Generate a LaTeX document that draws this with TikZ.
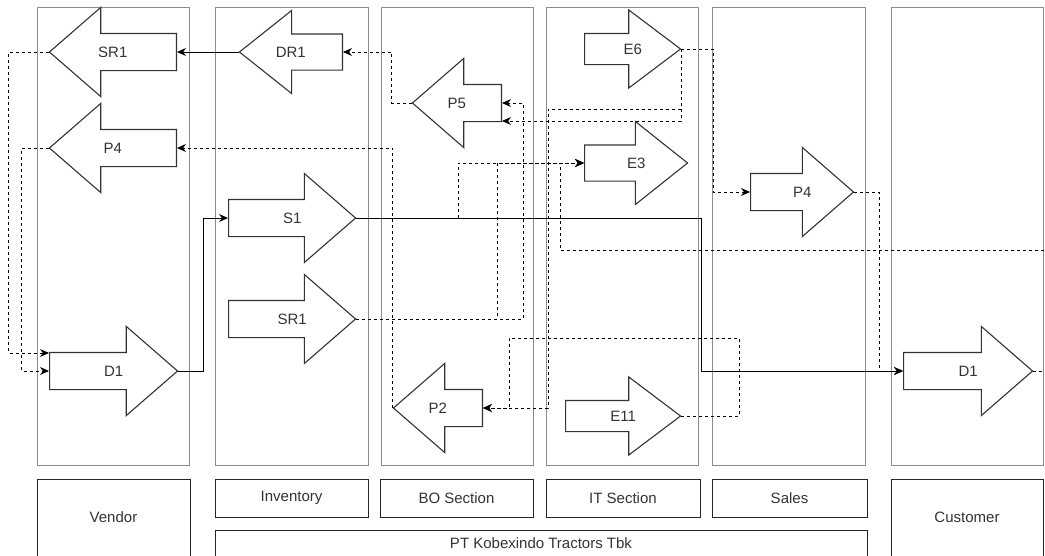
\documentclass[tikz,border=0pt]{standalone}
\usepackage{fontspec}
\setmainfont{Liberation Sans}
\usetikzlibrary{shapes.arrows, arrows.meta}

\tikzset{
  proc/.style={draw=black!80, line width=1.1pt, single arrow, single arrow head extend=26pt,
    minimum width=88pt, single arrow tip angle=82, inner xsep=0pt, inner ysep=12.5pt,
    text height=11pt, text depth=0pt, anchor=tail},
  procleft/.style={proc, shape border rotate=180},
  slim/.style={minimum width=77pt, inner ysep=9.5pt, single arrow head extend=23.5pt, single arrow tip angle=74},
  mid/.style={minimum width=82pt, inner ysep=12pt, single arrow head extend=23.5pt, single arrow tip angle=77},
  proctext/.style={font=\fontsize{15}{18}\selectfont, text=black!80, inner sep=0pt},
  lane/.style={draw=black!45, line width=0.8pt},
  lanelabel/.style={draw=black!85, line width=1pt, inner sep=0pt,
    font=\fontsize{15}{18}\selectfont, text=black!80},
  flow/.style={->, line width=1pt},
  msg/.style={->, line width=1pt, dash pattern=on 3pt off 3pt},
}

\begin{document}
\begin{tikzpicture}[x=1pt, y=-1pt, >={Stealth[length=9pt,width=8pt]}]
    \useasboundingbox (0,0) rectangle (1045,555);

        % Define the lanes
        \draw[lane] (37,7) rectangle (189,465);
        \draw[lane] (215,7) rectangle (368,465);
        \draw[lane] (381,7) rectangle (533,465);
        \draw[lane] (546,7) rectangle (698,465);
        \draw[lane] (712,7) rectangle (865,465);
        \draw[lane] (891,7) rectangle (1043,465);

        % Define the lane labels
        \node[lanelabel, minimum width=153pt, minimum height=77pt] (vendor) at (113.5,517.5) {Vendor};
        \node[lanelabel, minimum width=153pt, minimum height=38pt] (inventory) at (291.5,498) {Inventory};
        \node[lanelabel, minimum width=153pt, minimum height=38pt] (bo) at (456.5,498) {BO Section};
        \node[lanelabel, minimum width=154pt, minimum height=38pt] (it) at (623,498) {IT Section};
        \node[lanelabel, minimum width=155pt, minimum height=38pt] (sales) at (789.5,498) {Sales};
        \node[lanelabel, minimum width=152pt, minimum height=77pt] (customer) at (967,517.5) {Customer};
        \node[lanelabel, minimum width=652pt, minimum height=26pt] (company) at (541,543) {PT Kobexindo Tractors Tbk};

        % Define the process arrows (placed by their tail)
        \node[procleft, minimum height=127pt] (SR1v) at (177,52) {};
        \node[procleft, minimum height=127pt] (P4v) at (177,148) {};
        \node[proc, minimum height=128pt] (D1v) at (49,371) {};
        \node[procleft, mid, minimum height=103pt] (DR1) at (343,52) {};
        \node[proc, minimum height=127pt] (S1) at (228,218) {};
        \node[proc, minimum height=127pt] (SR1i) at (228,319) {};
        \node[procleft, minimum height=89pt] (P5) at (502,103) {};
        \node[procleft, minimum height=89pt] (P2) at (483,408) {};
        \node[proc, slim, minimum height=96pt] (E6) at (584,49) {};
        \node[proc, mid, minimum height=103pt] (E3) at (584,163) {};
        \node[proc, slim, minimum height=115pt] (E11) at (565,416) {};
        \node[proc, minimum height=103pt] (P4s) at (750,192) {};
        \node[proc, minimum height=129pt] (D1c) at (903,371) {};

        % Write the process names halfway along each arrow
        \path (SR1v.tail) -- (SR1v.tip) node[proctext, midway] (SR1vtext) {SR1};
        \path (P4v.tail) -- (P4v.tip) node[proctext, midway] (P4vtext) {P4};
        \path (D1v.tail) -- (D1v.tip) node[proctext, midway] (D1vtext) {D1};
        \path (DR1.tail) -- (DR1.tip) node[proctext, midway] (DR1text) {DR1};
        \path (S1.tail) -- (S1.tip) node[proctext, midway] (S1text) {S1};
        \path (SR1i.tail) -- (SR1i.tip) node[proctext, midway] (SR1itext) {SR1};
        \path (P5.tail) -- (P5.tip) node[proctext, midway] (P5text) {P5};
        \path (P2.tail) -- (P2.tip) node[proctext, midway] (P2text) {P2};
        \path (E6.tail) -- (E6.tip) node[proctext, midway] (E6text) {E6};
        \path (E3.tail) -- (E3.tip) node[proctext, midway] (E3text) {E3};
        \path (E11.tail) -- (E11.tip) node[proctext, midway] (E11text) {E11};
        \path (P4s.tail) -- (P4s.tip) node[proctext, midway] (P4stext) {P4};
        \path (D1c.tail) -- (D1c.tip) node[proctext, midway] (D1ctext) {D1};

        % Draw the material flow (solid)
        \draw[flow] (DR1.tip) -- (SR1v.tail);
        \draw[flow] (D1v.tip) -- ++(25,0) |- (S1.tail);
        \draw[flow] (S1.tip) -- ++(345,0) |- (D1c.tail);

        % Draw the information flow (dashed)
        \draw[msg] (P5.tip) -- ++(-20,0) |- (DR1.tail);
        \draw[msg] (P2.tip) |- (P4v.tail);
        \draw[msg] (SR1v.tip) -- ++(-40,0) |- ([yshift=18pt]D1v.tail);
        \draw[msg] (P4v.tip) -- ++(-27,0) |- (D1v.tail);
        \draw[msg] (S1.tip) -- ++(102,0) |- (E3.tail);
        \draw[msg] (SR1i.tip) -- ++(141,0) |- (E3.tail);
        \draw[msg] (SR1i.tip) -- ++(167,0) |- (P5.tail);
        \draw[msg] (E6.tip) |- ([yshift=-18pt]P5.tail);
        \draw[msg] (E6.tip) -- ++(0,60) -- ++(-133,0) |- (P2.tail);
        \draw[msg] (E11.tip) -- ++(58,0) -- ++(0,-78) -- ++(-230,0) |- (P2.tail);
        \draw[msg] (E6.tip) -- ++(32,0) |- (P4s.tail);
        \draw[msg] (P4s.tip) -- ++(25,0) |- (D1c.tail);
        \draw[msg] (D1c.tip) -- ++(20,0) -- ++(0,-121) -- ++(-493,0) |- (E3.tail);

    \end{tikzpicture}
\end{document}
